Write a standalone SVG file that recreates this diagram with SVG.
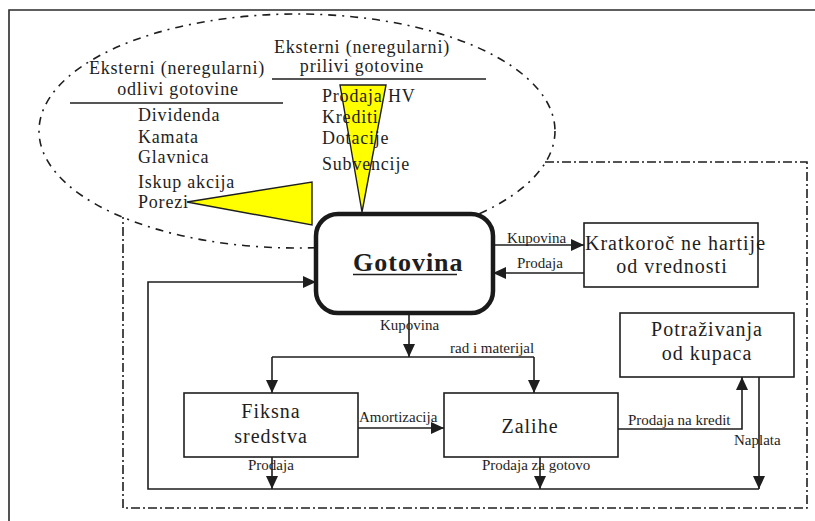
<svg xmlns="http://www.w3.org/2000/svg" width="815" height="521" viewBox="0 0 815 521" font-family="'Liberation Serif', 'DejaVu Serif', serif">
  <style>
    .frame { fill: none; stroke: #2a2a2a; stroke-width: 1.6; }
    .dashdot { fill: none; stroke: #1e1e1e; stroke-width: 1.6; stroke-dasharray: 9 3 2 3; }
    .loose { stroke-dasharray: 8 6 2 6; }
    .box { fill: #ffffff; stroke: #1e1e1e; stroke-width: 1.6; }
    .main { fill: #ffffff; stroke: #1a1a1a; stroke-width: 4.5; }
    .tri { fill: #ffff00; stroke: #1e1e1e; stroke-width: 1.4; stroke-linejoin: miter; }
    .conn { fill: none; stroke: #1e1e1e; stroke-width: 1.6; }
    .rule { stroke: #1e1e1e; stroke-width: 1.6; }
    text { fill: #1e1e1e; }
    .head { font-size: 18px; letter-spacing: 0.8px; }
    .item { font-size: 18px; letter-spacing: 0.8px; }
    .lbl { font-size: 15px; }
    .node { font-size: 20px; letter-spacing: 1px; }
    .big { font-size: 26px; font-weight: bold; letter-spacing: 1px; }
  </style>
  <defs>
    <marker id="arr" markerUnits="userSpaceOnUse" markerWidth="14" markerHeight="12" refX="13" refY="6" orient="auto">
      <path d="M0,0 L13,6 L0,12 z" fill="#1e1e1e"/>
    </marker>
  </defs>

  <!-- page frame -->
  <path class="frame" d="M815,10 H9 V521"/>

  <!-- boundary of external flows and the firm -->
  <g id="boundary">
    <ellipse class="dashdot loose" cx="297" cy="131" rx="258" ry="117"/>
    <path class="dashdot" d="M545,162 H807 V508 H123 V217"/>
  </g>

  <!-- inflow / outflow wedges -->
  <g id="wedges">
    <polygon class="tri" points="340,85 386,85 362,212"/>
    <polygon class="tri" points="187,202 312,182 312,225"/>
  </g>

  <!-- external outflows -->
  <g id="odlivi">
    <text class="head" x="177" y="74" text-anchor="middle">Eksterni (neregularni)</text>
    <text class="head" x="178" y="95" text-anchor="middle">odlivi gotovine</text>
    <line class="rule" x1="70" y1="103" x2="283" y2="103"/>
    <text class="item" x="138" y="121">Dividenda</text>
    <text class="item" x="138" y="143">Kamata</text>
    <text class="item" x="138" y="163">Glavnica</text>
    <text class="item" x="138" y="188">Iskup akcija</text>
    <text class="item" x="138" y="208">Porezi</text>
  </g>

  <!-- external inflows -->
  <g id="prilivi">
    <text class="head" x="362" y="53" text-anchor="middle">Eksterni (neregularni)</text>
    <text class="head" x="362" y="72" text-anchor="middle">prilivi gotovine</text>
    <line class="rule" x1="272" y1="79" x2="486" y2="79"/>
    <text class="item" x="322" y="102">Prodaja HV</text>
    <text class="item" x="322" y="123">Krediti</text>
    <text class="item" x="322" y="144">Dotacije</text>
    <text class="item" x="322" y="170">Subvencije</text>
  </g>

  <!-- connectors -->
  <g id="connectors">
    <path class="conn" d="M493,245 H584" marker-end="url(#arr)"/>
    <path class="conn" d="M584,273 H493" marker-end="url(#arr)"/>
    <path class="conn" d="M409,313 V357" marker-end="url(#arr)"/>
    <path class="conn" d="M272,357 H534"/>
    <path class="conn" d="M272,357 V393" marker-end="url(#arr)"/>
    <path class="conn" d="M534,357 V393" marker-end="url(#arr)"/>
    <path class="conn" d="M358,428 H444" marker-end="url(#arr)"/>
    <path class="conn" d="M618,429 H742 V377" marker-end="url(#arr)"/>
    <path class="conn" d="M759,377 V489" marker-end="url(#arr)"/>
    <path class="conn" d="M272,457 V489" marker-end="url(#arr)"/>
    <path class="conn" d="M540,457 V489" marker-end="url(#arr)"/>
    <path class="conn" d="M759,489 H148 V282 H316" marker-end="url(#arr)"/>

    <text class="lbl" x="507" y="243">Kupovina</text>
    <text class="lbl" x="517" y="268">Prodaja</text>
    <text class="lbl" x="380" y="330">Kupovina</text>
    <text class="lbl" x="450" y="353">rad i materijal</text>
    <text class="lbl" x="359" y="422">Amortizacija</text>
    <text class="lbl" x="628" y="425">Prodaja na kredit</text>
    <text class="lbl" x="734" y="445">Naplata</text>
    <text class="lbl" x="248" y="470">Prodaja</text>
    <text class="lbl" x="482" y="470">Prodaja za gotovo</text>
  </g>

  <!-- nodes -->
  <g id="gotovina">
    <rect class="main" x="316" y="214" width="177" height="99" rx="22" ry="22"/>
    <text class="big" x="353" y="271">Gotovina</text>
    <line class="rule" x1="353" y1="274.5" x2="457" y2="274.5"/>
  </g>

  <g id="hartije">
    <rect class="box" x="584" y="223" width="174" height="64"/>
    <text class="node" x="585" y="250">Kratkoroč ne hartije</text>
    <text class="node" x="672" y="273" text-anchor="middle">od vrednosti</text>
  </g>

  <g id="potrazivanja">
    <rect class="box" x="620" y="313" width="174" height="64"/>
    <text class="node" x="707" y="336" text-anchor="middle">Potraživanja</text>
    <text class="node" x="707" y="360" text-anchor="middle">od kupaca</text>
  </g>

  <g id="fiksna">
    <rect class="box" x="184" y="393" width="174" height="64"/>
    <text class="node" x="271" y="418" text-anchor="middle">Fiksna</text>
    <text class="node" x="271" y="443" text-anchor="middle">sredstva</text>
  </g>

  <g id="zalihe">
    <rect class="box" x="444" y="393" width="174" height="64"/>
    <text class="node" x="530" y="433" text-anchor="middle">Zalihe</text>
  </g>
</svg>
